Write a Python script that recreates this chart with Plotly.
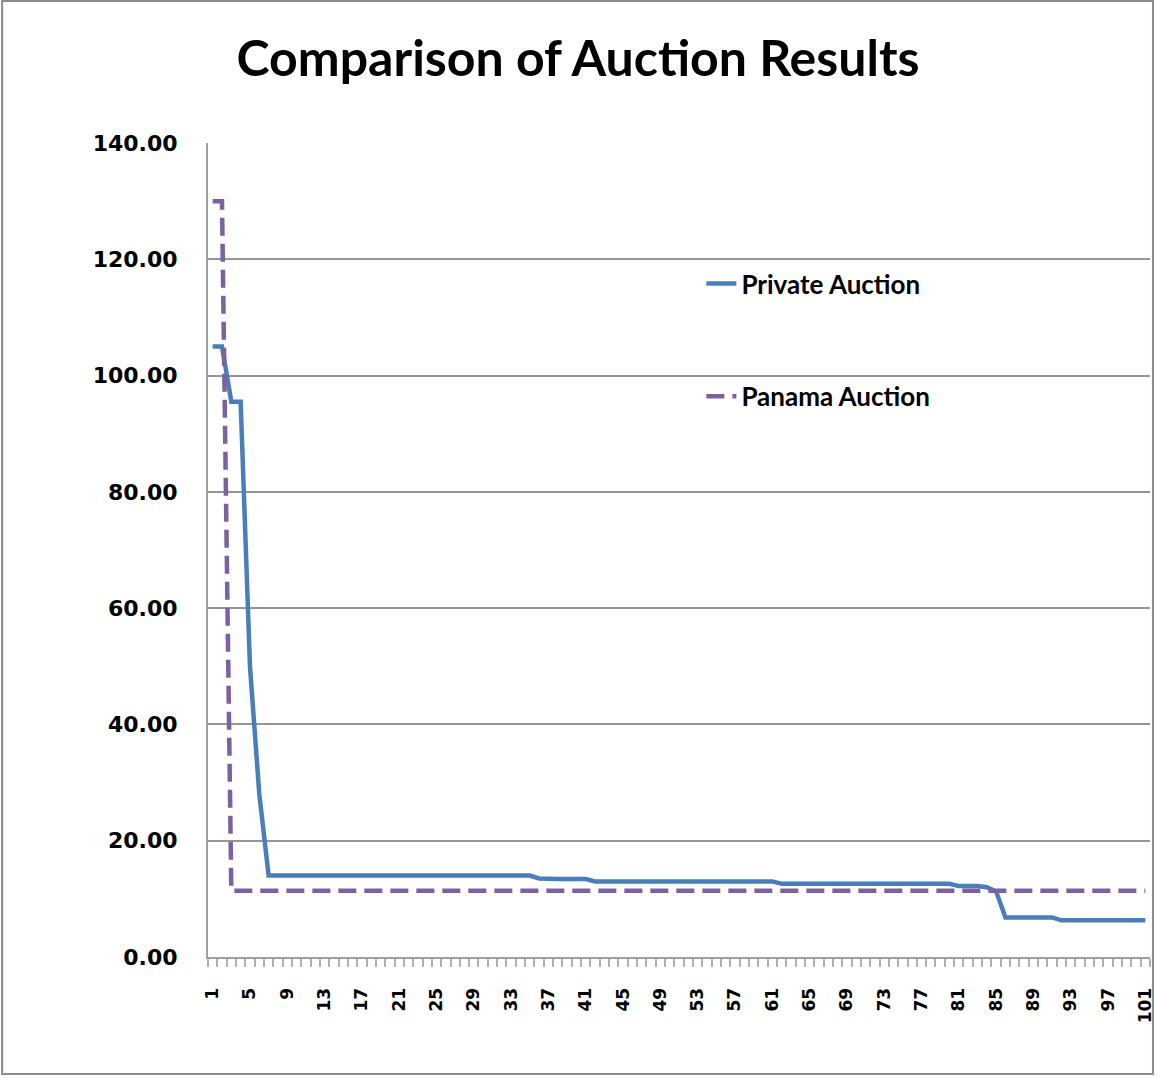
import plotly.graph_objects as go

categories = list(range(1, 102))
private_auction = ([105.0, 105.0, 95.5, 95.5, 50.0, 28.0] + [14.0] * 29 + [13.5] + [13.4] * 5 +
                   [13.0] * 20 + [12.6] * 19 + [12.2] * 3 + [12.0, 11.3] + [6.8] * 6 + [6.3] * 10)
panama_auction = [130.0, 130.0] + [11.4] * 99
x_tick_labels = [str(v) for v in range(1, 102, 4)]
y_ticks = [0, 20, 40, 60, 80, 100, 120, 140]

W, H = 1160, 1078
L, R, T, B = 208, 5, 143, 121
pw, ph = W - L - R, H - T - B

fig = go.Figure()
fig.add_trace(go.Scatter(x=categories, y=private_auction, mode="lines", name="Private Auction",
                         line=dict(color="#4A7EBB", width=4.5), legendgroup="a"))
fig.add_trace(go.Scatter(x=categories, y=panama_auction, mode="lines", name="Panama Auction",
                         line=dict(color="#7D60A0", width=4.5, dash="18px,8px"), legendgroup="b"))

fig.update_layout(
    width=W, height=H,
    margin=dict(l=L, r=R, t=T, b=B),
    paper_bgcolor="white", plot_bgcolor="white",
    title=dict(text="Comparison of Auction Results", x=(580 - L) / pw, xref="paper", xanchor="center",
               y=1 - 58 / H, yanchor="middle",
               font=dict(family="Lato", size=50, color="black", weight="bold")),
    legend=dict(x=(704 - L) / pw, y=(957 - 260) / ph, xanchor="left", yanchor="top",
                bgcolor="rgba(0,0,0,0)", tracegroupgap=76,
                font=dict(family="Lato", size=26, color="black", weight="bold")),
    showlegend=True,
)
fig.update_xaxes(range=[0.5, 101.5], tickmode="array", tickvals=list(range(1, 102, 4)),
                 ticktext=x_tick_labels, tickangle=-90, ticks="", showgrid=False, zeroline=False,
                 showline=True, linecolor="#A0A0A0", linewidth=2, ticklabelstandoff=22,
                 tickfont=dict(family="DejaVu Sans", size=17, color="black", weight="bold"),
                 minor=dict(tickmode="linear", tick0=0.5, dtick=1, ticks="outside", ticklen=8,
                            tickcolor="#B0B0B0", tickwidth=2, showgrid=False))
fig.update_yaxes(range=[0, 140], tickmode="array", tickvals=y_ticks, tickformat=".2f",
                 showgrid=True, gridcolor="#959595", gridwidth=2, zeroline=False,
                 showline=True, linecolor="#A0A0A0", linewidth=2, ticks="", ticklen=0,
                 ticklabelstandoff=24,
                 tickfont=dict(family="DejaVu Sans", size=22, color="black", weight="bold"))

fig.add_shape(type="rect", xref="paper", yref="paper",
              x0=(1 - L) / pw, x1=(1158 - L) / pw, y0=(957 - 1074) / ph, y1=(957 - 1) / ph,
              line=dict(color="#8C8C8C", width=2), fillcolor="rgba(0,0,0,0)", layer="below")

fig.write_html("out.html", config={"displayModeBar": False},
               post_script="document.body.style.margin='0';")
